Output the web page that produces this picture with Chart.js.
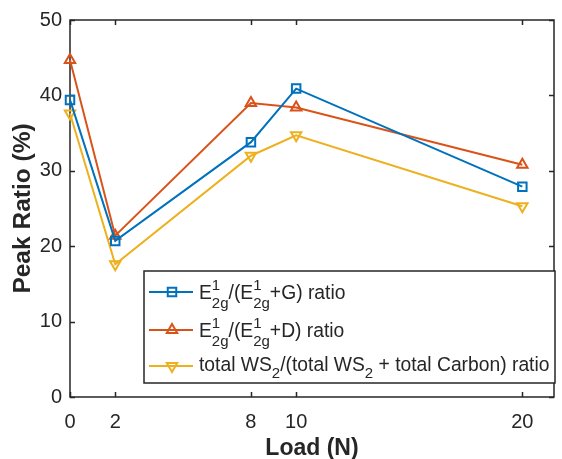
<!DOCTYPE html>
<html>
<head>
<meta charset="utf-8">
<script src="https://cdn.jsdelivr.net/npm/chart.js@4"></script>
<style>
  html, body { margin: 0; padding: 0; background: #fff; }
  #wrap { width: 562px; height: 459px; }
</style>
</head>
<body>
<div id="wrap"><canvas id="ratioChart" width="562" height="459"></canvas></div>
<script>
const loads = [0, 2, 8, 10, 20];
const ratioG = [39.4, 20.7, 33.8, 40.9, 27.9];
const ratioD = [44.7, 21.4, 39.0, 38.4, 30.8];
const ratioTotal = [37.6, 17.6, 32.0, 34.7, 25.3];
const xTicks = [0, 2, 8, 10, 20];
const yTicks = [0, 10, 20, 30, 40, 50];

const FONT = '"Liberation Sans", Arial, sans-serif';
const INK = '#262626';
const BLUE = '#0072BD';
const ORANGE = '#D95319';
const YELLOW = '#EDB120';

function pts(ys) {
    return loads.map((x, i) => ({ x: x, y: ys[i] }));
}

function series(label, ys, color, style, rotation) {
    return {
        label: label,
        data: pts(ys),
        borderColor: color,
        backgroundColor: color,
        borderWidth: 2,
        pointStyle: style,
        rotation: rotation,
        pointRadius: 6,
        pointBorderWidth: 2,
        pointBackgroundColor: 'rgba(0,0,0,0)',
        pointBorderColor: color,
        clip: false,
        tension: 0
    };
}

// box around the axes with inward ticks on all four sides
const boxAxes = {
    id: 'boxAxes',
    beforeDatasetsDraw(chart) {
        const { ctx, chartArea: a, scales } = chart;
        const len = 5;
        ctx.save();
        ctx.strokeStyle = INK;
        ctx.lineWidth = 1.5;
        ctx.strokeRect(a.left, a.top, a.right - a.left, a.bottom - a.top);
        ctx.beginPath();
        xTicks.forEach(v => {
            const px = Math.round(scales.x.getPixelForValue(v)) + 0.5;
            ctx.moveTo(px, a.bottom); ctx.lineTo(px, a.bottom - len);
            ctx.moveTo(px, a.top); ctx.lineTo(px, a.top + len);
        });
        yTicks.forEach(v => {
            const py = Math.round(scales.y.getPixelForValue(v)) + 0.5;
            ctx.moveTo(a.left, py); ctx.lineTo(a.left + len, py);
            ctx.moveTo(a.right, py); ctx.lineTo(a.right - len, py);
        });
        ctx.stroke();
        ctx.restore();
    }
};

// legend with sub/superscripts, drawn inside the lower right of the axes
const mathLegend = {
    id: 'mathLegend',
    afterDraw(chart) {
        const { ctx, chartArea: a } = chart;
        const left = a.left + 74, top = a.top + 251;
        const right = a.right + 1, bottom = a.bottom - 14;
        ctx.save();
        ctx.fillStyle = '#fff';
        ctx.fillRect(left, top, right - left, bottom - top);
        ctx.strokeStyle = INK;
        ctx.lineWidth = 1.5;
        ctx.strokeRect(left, top, right - left, bottom - top);

        const main = '19.3px ' + FONT;
        const small = '15px ' + FONT;

        // parts: [text, kind] where kind is 'n' normal, 'e' E_2g^1 block, 's' subscript
        function drawRich(parts, x, base) {
            ctx.fillStyle = INK;
            ctx.textBaseline = 'alphabetic';
            ctx.textAlign = 'left';
            parts.forEach(p => {
                if (p[1] === 'n') {
                    ctx.font = main;
                    ctx.fillText(p[0], x, base);
                    x += ctx.measureText(p[0]).width;
                } else if (p[1] === 'e') {
                    ctx.font = small;
                    ctx.fillText('1', x, base - 9);
                    ctx.fillText('2g', x, base + 9);
                    x += Math.max(ctx.measureText('1').width, ctx.measureText('2g').width);
                } else {
                    ctx.font = small;
                    ctx.fillText(p[0], x, base + 7);
                    x += ctx.measureText(p[0]).width;
                }
            });
        }

        const rows = [
            { ds: 0, ly: 21, base: 28, parts: [['E', 'n'], ['', 'e'], ['/(E', 'n'], ['', 'e'], ['+G) ratio', 'n']] },
            { ds: 1, ly: 59, base: 66, parts: [['E', 'n'], ['', 'e'], ['/(E', 'n'], ['', 'e'], ['+D) ratio', 'n']] },
            { ds: 2, ly: 95, base: 100, parts: [['total WS', 'n'], ['2', 's'], ['/(total WS', 'n'], ['2', 's'], [' + total Carbon) ratio', 'n']] }
        ];
        rows.forEach(r => {
            const ds = chart.data.datasets[r.ds];
            const y = top + r.ly;
            ctx.strokeStyle = ds.borderColor;
            ctx.fillStyle = 'rgba(0,0,0,0)';
            ctx.lineWidth = 2;
            ctx.beginPath();
            ctx.moveTo(left + 5, y);
            ctx.lineTo(left + 49, y);
            ctx.stroke();
            Chart.helpers.drawPoint(ctx, {
                pointStyle: ds.pointStyle,
                rotation: ds.rotation,
                radius: 6,
                borderWidth: 2
            }, left + 28, y);
            drawRich(r.parts, left + 55, top + r.base);
        });
        ctx.restore();
    }
};

new Chart(document.getElementById('ratioChart').getContext('2d'), {
    type: 'line',
    data: {
        datasets: [
            series('E2g1/(E2g1+G) ratio', ratioG, BLUE, 'rect', 0),
            series('E2g1/(E2g1+D) ratio', ratioD, ORANGE, 'triangle', 0),
            series('total WS2/(total WS2 + total Carbon) ratio', ratioTotal, YELLOW, 'triangle', 180)
        ]
    },
    options: {
        responsive: false,
        animation: false,
        layout: { padding: { left: 0, right: 7, top: 18, bottom: 0 } },
        plugins: {
            legend: { display: false },
            tooltip: { enabled: false }
        },
        scales: {
            x: {
                type: 'linear',
                min: 0,
                max: 21.4,
                afterBuildTicks: s => { s.ticks = xTicks.map(v => ({ value: v })); },
                afterFit: s => { s.height = 62; },
                grid: { display: false, drawTicks: false },
                border: { display: false },
                ticks: { color: INK, padding: 13, font: { family: FONT, size: 20 } },
                title: {
                    display: true,
                    text: 'Load (N)',
                    color: INK,
                    padding: { top: 0, bottom: -3 },
                    font: { family: FONT, size: 23, weight: 'bold' }
                }
            },
            y: {
                min: 0,
                max: 50,
                afterBuildTicks: s => { s.ticks = yTicks.map(v => ({ value: v })); },
                afterFit: s => { s.width = 70; },
                grid: { display: false, drawTicks: false },
                border: { display: false },
                ticks: { color: INK, padding: 8, font: { family: FONT, size: 20 } },
                title: {
                    display: true,
                    text: 'Peak Ratio (%)',
                    color: INK,
                    padding: { top: 9, bottom: 0 },
                    font: { family: FONT, size: 24.5, weight: 'bold' }
                }
            }
        }
    },
    plugins: [boxAxes, mathLegend]
});
</script>
</body>
</html>
